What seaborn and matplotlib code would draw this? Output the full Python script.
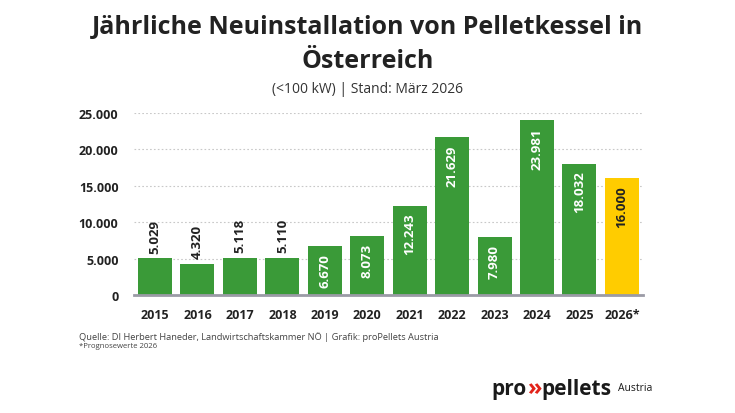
import matplotlib
matplotlib.use("Agg")
import matplotlib.pyplot as plt
import seaborn as sns
import pandas as pd

years = ["2015", "2016", "2017", "2018", "2019", "2020", "2021", "2022", "2023", "2024", "2025", "2026*"]
installs = [5029, 4320, 5118, 5110, 6670, 8073, 12243, 21629, 7980, 23981, 18032, 16000]
kind = ["ist"] * 11 + ["prognose"]
y_ticks = [0, 5000, 10000, 15000, 20000, 25000]

GREEN = "#3a9a38"
YELLOW = "#ffcc00"
DARK = "#222222"

def fmt(v):
    return f"{v:,}".replace(",", ".")

sns.set_style("white")
plt.rcParams["font.family"] = ["Open Sans", "DejaVu Sans"]

df = pd.DataFrame({"Jahr": years, "Anzahl": installs, "Art": kind})

fig = plt.figure(figsize=(7.35, 4.14), dpi=100)
ax = fig.add_axes([0.182, 0.285, 0.693, 0.44])

sns.barplot(data=df, x="Jahr", y="Anzahl", hue="Art", palette={"ist": GREEN, "prognose": YELLOW},
            dodge=False, width=0.8, saturation=1, legend=False, ax=ax, zorder=3, edgecolor="none")

ax.set_ylim(0, 25000)
ax.set_xlim(-0.5, len(years) - 0.5)
ax.set_yticks(y_ticks)
ax.set_yticklabels([fmt(t) for t in y_ticks])
ax.set_xlabel("")
ax.set_ylabel("")
ax.tick_params(axis="both", length=0, labelsize=9, colors=DARK)
ax.tick_params(axis="y", pad=11)
ax.tick_params(axis="x", pad=9)
for lab in ax.get_xticklabels() + ax.get_yticklabels():
    lab.set_fontweight("bold")

ax.yaxis.grid(True, linestyle=(0, (1.5, 2)), color="#c8c8c8", linewidth=0.8, zorder=0)
for s in ["top", "right", "left"]:
    ax.spines[s].set_visible(False)
ax.spines["bottom"].set_color("#9b9ba6")
ax.spines["bottom"].set_linewidth(2)
ax.spines["bottom"].set_zorder(4)

# value labels
for i, v in enumerate(installs):
    if v < 6000:
        ax.annotate(fmt(v), (i, v), xytext=(0, 4), textcoords="offset points",
                    rotation=90, ha="center", va="bottom", fontsize=9.5, fontweight="bold", color=DARK)
    else:
        col = DARK if kind[i] == "prognose" else "white"
        ax.annotate(fmt(v), (i, v), xytext=(0, -5), textcoords="offset points",
                    rotation=90, ha="center", va="top", fontsize=9.5, fontweight="bold", color=col, zorder=5)

fig.text(0.5, 0.893, "Jährliche Neuinstallation von Pelletkessel in\nÖsterreich", ha="center", va="center",
         fontsize=18, fontweight="bold", color=DARK, linespacing=1.5)
fig.text(0.5, 0.783, "(<100 kW) | Stand: März 2026", ha="center", va="center", fontsize=10, color="#333333")

fig.text(0.107, 0.187, "Quelle: DI Herbert Haneder, Landwirtschaftskammer NÖ | Grafik: proPellets Austria",
         ha="left", va="center", fontsize=6.7, color="#444444")
fig.text(0.107, 0.163, "*Prognosewerte 2026", ha="left", va="center", fontsize=5.6, color="#444444")

# logo, pieces chained left to right
fig.canvas.draw()
r = fig.canvas.get_renderer()
x = 491
pieces = [("pro", 15, "bold", "#1a1a1a", 0, 1),
          ("»", 17, "bold", "#e2231a", 1, 0),
          ("pellets", 15, "bold", "#1a1a1a", 0, 6),
          ("Austria", 7.5, "normal", "#1a1a1a", 1, 0)]
for txt, fs, fw, col, dy, gap in pieces:
    t = fig.text(x / 735, (414 - 390 + dy) / 414, txt, ha="left", va="center", fontsize=fs,
                 fontweight=fw, color=col)
    x = t.get_window_extent(r).x1 + gap

fig.savefig("out.png", dpi=100, facecolor="white")
